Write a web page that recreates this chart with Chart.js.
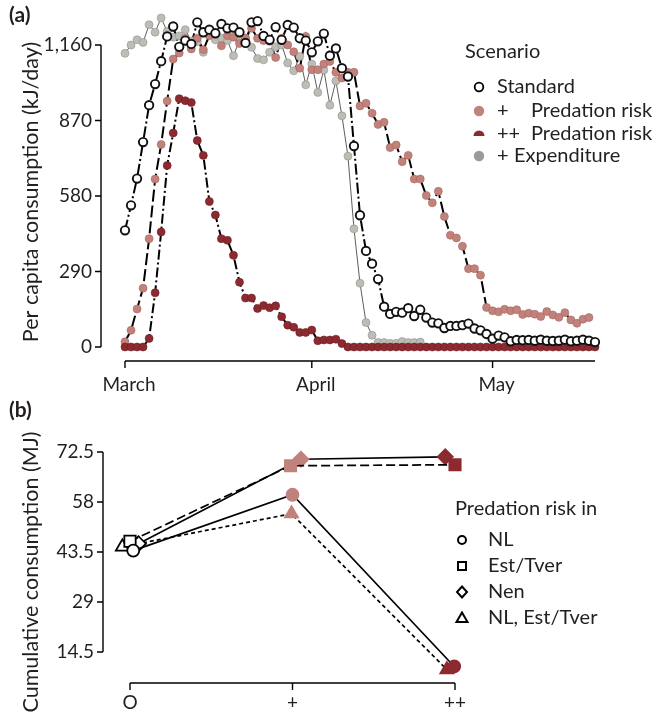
<!DOCTYPE html>
<html>
<head>
<meta charset="utf-8">
<script src="https://cdn.jsdelivr.net/npm/chart.js@4.4.1/dist/chart.umd.min.js"></script>
<style>
  html, body { margin: 0; padding: 0; background: #fff; }
  #wrap { position: relative; width: 662px; height: 712px; }
  canvas { position: absolute; left: 0; }
  #chartA { top: 0; }
  #chartB { top: 400px; }
</style>
</head>
<body>
<div id="wrap">
  <canvas id="chartA" width="662" height="400"></canvas>
  <canvas id="chartB" width="662" height="312"></canvas>
</div>
<script>
/* ==========================
   DADOS - painel (a)
========================== */
// dia da estação (0 = 1 de março)
const days = [0, 1, 2, 3, 4, 5, 6, 7, 8, 9, 10, 11, 12, 13, 14, 15, 16, 17, 18, 19,
  20, 21, 22, 23, 24, 25, 26, 27, 28, 29, 30, 31, 32, 33, 34, 35, 36, 37, 38, 39,
  40, 41, 42, 43, 44, 45, 46, 47, 48, 49, 50, 51, 52, 53, 54, 55, 56, 57, 58, 59,
  60, 61, 62, 63, 64, 65, 66, 67, 68, 69, 70, 71, 72, 73, 74, 75, 76, 77, 78];

const monthTicks = [0, 31, 61];
const monthLabels = ["March", "April", "May"];
const yTicksA = [0, 290, 580, 870, 1160];
const yTickLabelsA = ["0", "290", "580", "870", "1,160"];

const standard = [448, 544, 647, 787, 929, 1010, 1098, 1193, 1231, 1153,
  1177, 1164, 1247, 1209, 1219, 1205, 1241, 1224, 1227, 1209,
  1168, 1247, 1252, 1195, 1180, 1229, 1180, 1237, 1227, 1186,
  1177, 1132, 1174, 1204, 1119, 1147, 1071, 1039, 772, 506,
  369, 320, 261, 155, 127, 135, 132, 149, 119, 143,
  113, 94, 91, 73, 81, 81, 84, 90, 71, 64,
  50, 32, 44, 37, 22, 27, 26, 27, 24, 28,
  24, 23, 24, 28, 22, 24, 28, 24, 19];

const predRisk = [20, 64, 146, 226, 416, 645, 778, 945, 1106, 1129,
  1186, 1145, 1186, 1142, 1196, 1209, 1157, 1196, 1190, 1166,
  1186, 1224, 1186, 1177, 1174, 1112, 1186, 1160, 1134, 1071,
  1193, 1065, 1065, 1087, 1097, 1055, 1033, 1055, 1055, 926,
  936, 898, 855, 863, 766, 776, 712, 736, 645, 645,
  582, 554, 598, 501, 429, 419, 387, 301, 301, 276,
  152, 139, 135, 145, 139, 143, 125, 130, 126, 117,
  136, 123, 114, 132, 104, 91, 107, 113, null];

const predRiskHigh = [0, 0, 0, 0, 33, 208, 442, 697, 822, 954,
  946, 939, 793, 736, 559, 507, 416, 410, 352, 249,
  188, 188, 148, 159, 151, 158, 116, 84, 76, 56,
  56, 65, 24, 27, 27, 30, 13, 0, 0, 0,
  0, 0, 0, 0, 0, 0, 0, 0, 0, 0,
  0, 0, 0, 0, 0, 0, 0, 0, 0, 0,
  0, 0, 0, 0, 0, 0, 0, 0, 0, 0,
  0, 0, 0, 0, 0, 0, 0, 0, 0];

const expenditure = [1128, 1160, 1180, 1170, 1238, 1209, 1264, 1212, 1190, 1195,
  1219, 1175, 1173, 1132, 1204, 1180, 1186, 1177, 1119, 1177,
  1186, 1151, 1108, 1103, 1132, 1153, 1160, 1091, 1061, 1116,
  1007, 1087, 978, 1064, 929, 1022, 888, 733, 454, 245,
  94, 45, 17, 17, 14, 14, 21, 17, 17, 19,
  null, null, null, null, null, null, null, null, null, null,
  null, null, null, null, null, null, null, null, null, null,
  null, null, null, null, null, null, null, null, null];

/* ==========================
   DADOS - painel (b)
========================== */
const groups = ["O", "+", "++"];
const yTicksB = [14.5, 29, 43.5, 58, 72.5];
const yTickLabelsB = ["14.5", "29", "43.5", "58", "72.5"];

const cumNL = [43.9, 60.1, 10.3];
const cumEstTver = [46.6, 68.5, 68.8];
const cumNen = [45.9, 70.4, 71.1];
const cumNLEstTver = [45.0, 54.6, 9.4];

// deslocamento horizontal dos marcadores (dodge), em unidades de grupo
const dodgeNL = [0.02, 1.0, 1.995];
const dodgeEstTver = [0, 0.988, 2.0];
const dodgeNen = [0.052, 1.052, 1.94];
const dodgeNLEstTver = [-0.047, 0.994, 1.95];

/* ==========================
   CORES / FONTES
========================== */
const ROSY = "#c0827b";
const ROSY_EDGE = "#a9665f";
const DARK = "#8c2a30";
const DARK_EDGE = "#6f1f25";
const GREY = "#bdbdb5";
const GREY_EDGE = "#929290";
const INK = "#231f20";
const FONT = "Lato";

Chart.defaults.font.family = FONT;

function toXY(xs, ys) {
    return xs.map((x, i) => ({ x: x, y: ys[i] }));
}

/* ==========================
   GEOMETRIA DOS PAINÉIS
========================== */
// painel (a): dia 0 -> 125px, dia 78 -> 595px ; 0 -> 347px, 1160 -> 45px
const A = { w: 662, h: 400, x0: 125, x1: 595, d0: 0, d1: 78, yb: 347, yt: 45, v0: 0, v1: 1160,
            xmin: -1, xmax: 79, ymin: -40, ymax: 1300 };
// painel (b): grupo 0 -> 130px, grupo 2 -> 455px ; 14.5 -> 252px, 72.5 -> 52px (coords do canvas)
const B = { w: 662, h: 312, x0: 130, x1: 455, d0: 0, d1: 2, yb: 252, yt: 52, v0: 14.5, v1: 72.5,
            xmin: -0.2, xmax: 2.2, ymin: 5, ymax: 75 };

function paddingFor(p) {
    const kx = (p.x1 - p.x0) / (p.d1 - p.d0);
    const ky = (p.yb - p.yt) / (p.v1 - p.v0);
    return {
        left: p.x0 - (p.d0 - p.xmin) * kx,
        right: p.w - (p.x1 + (p.xmax - p.d1) * kx),
        top: p.yt - (p.ymax - p.v1) * ky,
        bottom: p.h - (p.yb + (p.v0 - p.ymin) * ky)
    };
}

/* ==========================
   EIXOS / LEGENDA - (a)
========================== */
const decorA = {
    id: "decorA",
    afterDraw(chart) {
        const { ctx, scales: { x, y } } = chart;
        ctx.save();
        ctx.strokeStyle = "#000";
        ctx.fillStyle = INK;
        ctx.lineWidth = 1.4;

        // eixo y
        const axX = 101;
        ctx.beginPath();
        ctx.moveTo(axX, y.getPixelForValue(yTicksA[yTicksA.length - 1]));
        ctx.lineTo(axX, y.getPixelForValue(yTicksA[0]));
        yTicksA.forEach(v => {
            const py = y.getPixelForValue(v);
            ctx.moveTo(axX, py);
            ctx.lineTo(axX - 6, py);
        });
        ctx.stroke();
        ctx.font = "19px " + FONT;
        ctx.textAlign = "right";
        ctx.textBaseline = "middle";
        yTicksA.forEach((v, i) => ctx.fillText(yTickLabelsA[i], axX - 9, y.getPixelForValue(v)));

        // eixo x
        const axY = 361;
        ctx.beginPath();
        ctx.moveTo(x.getPixelForValue(days[0]), axY);
        ctx.lineTo(x.getPixelForValue(days[days.length - 1]), axY);
        monthTicks.forEach(d => {
            const px = x.getPixelForValue(d);
            ctx.moveTo(px, axY);
            ctx.lineTo(px, axY + 7);
        });
        ctx.stroke();
        ctx.textAlign = "center";
        monthTicks.forEach((d, i) => ctx.fillText(monthLabels[i], x.getPixelForValue(d) + 4, 385));

        // título do eixo y
        ctx.save();
        ctx.font = "21.5px " + FONT;
        ctx.translate(31, 192);
        ctx.rotate(-Math.PI / 2);
        ctx.fillText("Per capita consumption (kJ/day)", 0, 0);
        ctx.restore();

        // rótulo do painel
        ctx.font = "bold 21px " + FONT;
        ctx.textAlign = "left";
        ctx.fillText("(a)", 9, 15);

        // legenda
        ctx.font = "20px " + FONT;
        ctx.fillText("Scenario", 465, 52);
        const sx = 479;
        ctx.lineWidth = 1.8;
        ctx.beginPath(); ctx.arc(sx, 87, 4.3, 0, Math.PI * 2);
        ctx.fillStyle = "#fff"; ctx.fill(); ctx.strokeStyle = "#000"; ctx.stroke();
        ctx.beginPath(); ctx.arc(sx, 111, 5.2, 0, Math.PI * 2);
        ctx.fillStyle = ROSY; ctx.fill();
        ctx.beginPath(); ctx.arc(sx, 136, 5.5, Math.PI, Math.PI * 2); ctx.closePath();
        ctx.fillStyle = DARK; ctx.fill();
        ctx.beginPath(); ctx.arc(sx, 156, 5.2, 0, Math.PI * 2);
        ctx.fillStyle = "#9a9a9a"; ctx.fill();

        ctx.fillStyle = INK;
        ctx.fillText("Standard", 497, 87);
        ctx.fillText("+", 497, 111);
        ctx.fillText("Predation risk", 531, 111);
        ctx.fillText("++", 497, 134);
        ctx.fillText("Predation risk", 531, 134);
        ctx.fillText("+", 497, 156);
        ctx.fillText("Expenditure", 514, 156);
        ctx.restore();
    }
};

/* ==========================
   EIXOS / LEGENDA - (b)
========================== */
const decorB = {
    id: "decorB",
    afterDraw(chart) {
        const { ctx, scales: { x, y } } = chart;
        ctx.save();
        ctx.strokeStyle = "#000";
        ctx.fillStyle = INK;
        ctx.lineWidth = 1.4;

        const axX = 103;
        ctx.beginPath();
        ctx.moveTo(axX, y.getPixelForValue(yTicksB[yTicksB.length - 1]));
        ctx.lineTo(axX, y.getPixelForValue(yTicksB[0]));
        yTicksB.forEach(v => {
            const py = y.getPixelForValue(v);
            ctx.moveTo(axX, py);
            ctx.lineTo(axX - 6, py);
        });
        ctx.stroke();
        ctx.font = "19px " + FONT;
        ctx.textAlign = "right";
        ctx.textBaseline = "middle";
        yTicksB.forEach((v, i) => ctx.fillText(yTickLabelsB[i], axX - 9, y.getPixelForValue(v)));

        const axY = 283;
        ctx.beginPath();
        ctx.moveTo(x.getPixelForValue(0), axY);
        ctx.lineTo(x.getPixelForValue(groups.length - 1), axY);
        groups.forEach((g, i) => {
            const px = x.getPixelForValue(i);
            ctx.moveTo(px, axY);
            ctx.lineTo(px, axY + 7);
        });
        ctx.stroke();
        ctx.textAlign = "center";
        groups.forEach((g, i) => ctx.fillText(g, x.getPixelForValue(i), 303));

        ctx.save();
        ctx.font = "21.5px " + FONT;
        ctx.translate(31, 172);
        ctx.rotate(-Math.PI / 2);
        ctx.fillText("Cumulative consumption (MJ)", 0, 0);
        ctx.restore();

        ctx.font = "bold 21px " + FONT;
        ctx.textAlign = "left";
        ctx.fillText("(b)", 9, 10);

        // legenda
        ctx.font = "20px " + FONT;
        ctx.fillText("Predation risk in", 455, 109);
        const sx = 462;
        const rows = [140, 166, 192, 218];
        ctx.lineWidth = 2;
        ctx.strokeStyle = "#000";
        ctx.beginPath(); ctx.arc(sx, rows[0], 4, 0, Math.PI * 2); ctx.stroke();
        ctx.strokeRect(sx - 4, rows[1] - 4, 8, 8);
        ctx.beginPath();
        ctx.moveTo(sx, rows[2] - 5.5); ctx.lineTo(sx + 5, rows[2]); ctx.lineTo(sx, rows[2] + 5.5); ctx.lineTo(sx - 5, rows[2]);
        ctx.closePath(); ctx.stroke();
        ctx.beginPath();
        ctx.moveTo(sx, rows[3] - 5.5); ctx.lineTo(sx + 5.5, rows[3] + 4); ctx.lineTo(sx - 5.5, rows[3] + 4);
        ctx.closePath(); ctx.stroke();

        ctx.fillText("NL", 488, rows[0]);
        ctx.fillText("Est/Tver", 488, rows[1]);
        ctx.fillText("Nen", 488, rows[2]);
        ctx.fillText("NL, Est/Tver", 488, rows[3]);
        ctx.restore();
    }
};

/* ==========================
   CHART (a)
========================== */
function lineSet(values, dash, width, color, order) {
    return {
        data: toXY(days, values),
        showLine: true,
        borderColor: color,
        borderWidth: width,
        borderDash: dash,
        pointRadius: 0,
        tension: 0,
        spanGaps: false,
        clip: false,
        order: order
    };
}

function pointSet(values, fill, edge, edgeWidth, radius, order) {
    return {
        data: toXY(days, values),
        showLine: false,
        pointRadius: radius,
        pointBackgroundColor: fill,
        pointBorderColor: edge,
        pointBorderWidth: edgeWidth,
        clip: false,
        order: order
    };
}

new Chart(document.getElementById("chartA"), {
    type: "line",
    data: {
        datasets: [
            pointSet(standard, "#ffffff", "#111111", 1.9, 4.2, 0),
            pointSet(predRiskHigh, DARK, DARK_EDGE, 0.6, 4, 1),
            pointSet(predRisk, ROSY, ROSY_EDGE, 0.6, 4, 2),
            pointSet(expenditure, GREY, GREY_EDGE, 0.6, 4, 3),
            lineSet(standard, [11, 3, 2, 3], 2, "#000", 10),
            lineSet(predRiskHigh, [10, 3, 2, 3], 2, "#000", 11),
            lineSet(predRisk, [12, 4], 2, "#000", 12),
            lineSet(expenditure, [], 0.8, "#333", 13)
        ]
    },
    options: {
        responsive: false,
        animation: false,
        layout: { padding: paddingFor(A) },
        plugins: { legend: { display: false }, tooltip: { enabled: false } },
        scales: {
            x: { type: "linear", min: A.xmin, max: A.xmax, display: false },
            y: { type: "linear", min: A.ymin, max: A.ymax, display: false }
        }
    },
    plugins: [decorA]
});

/* ==========================
   CHART (b)
========================== */
const groupFill = ["#ffffff", ROSY, DARK];
const groupEdge = ["#000000", ROSY, DARK];

function cumSet(xs, ys, style, radius, dash) {
    return {
        data: toXY(xs, ys),
        borderColor: "#000",
        borderWidth: 1.7,
        borderDash: dash,
        tension: 0,
        pointStyle: style,
        pointRadius: radius,
        pointBackgroundColor: groupFill,
        pointBorderColor: groupEdge,
        pointBorderWidth: 1.8,
        clip: false
    };
}

new Chart(document.getElementById("chartB"), {
    type: "line",
    data: {
        datasets: [
            cumSet(dodgeNL, cumNL, "circle", 6, []),
            cumSet(dodgeEstTver, cumEstTver, "rect", 8, [9, 4]),
            cumSet(dodgeNen, cumNen, "rectRot", 7.5, []),
            cumSet(dodgeNLEstTver, cumNLEstTver, "triangle", 7.5, [4, 3])
        ]
    },
    options: {
        responsive: false,
        animation: false,
        layout: { padding: paddingFor(B) },
        plugins: { legend: { display: false }, tooltip: { enabled: false } },
        scales: {
            x: { type: "linear", min: B.xmin, max: B.xmax, display: false },
            y: { type: "linear", min: B.ymin, max: B.ymax, display: false }
        }
    },
    plugins: [decorB]
});
</script>
</body>
</html>
